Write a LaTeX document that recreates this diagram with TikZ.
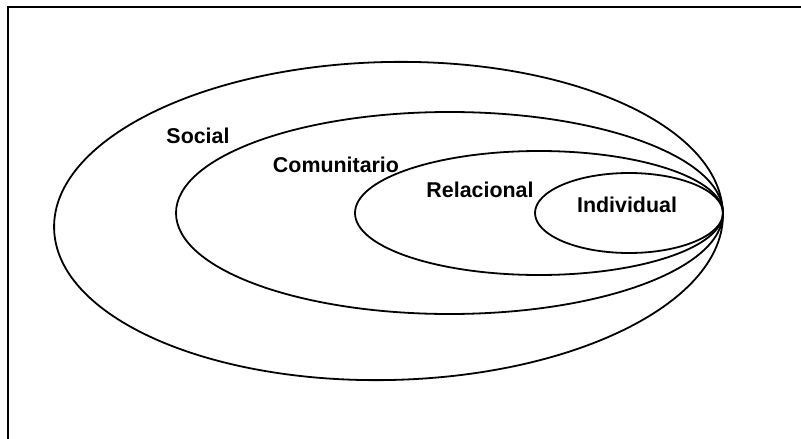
\documentclass[tikz,border=0pt]{standalone}
\usepackage{fontspec}
\setmainfont{Liberation Sans}
\usetikzlibrary{shapes.geometric}
\tikzstyle{anello} = [ellipse, draw=black, line width=1.8pt, inner sep=0pt, outer sep=0pt]
\tikzstyle{etichetta} = [anchor=base, inner sep=0pt, font=\bfseries\fontsize{21.4}{24}\selectfont]

\begin{document}
\begin{tikzpicture}[x=1pt,y=-1pt]
				\useasboundingbox (0,0) rectangle (801,439);
				\draw[line width=1.4pt] (8,7) rectangle (830,470);
				\node (social) at (388.5,221) [anello, minimum width=669pt, minimum height=318pt, rotate=1.3] {};
				\node (comunitario) at (449.5,213) [anello, minimum width=547pt, minimum height=202pt] {};
				\node (relacional) at (539,213) [anello, minimum width=368pt, minimum height=124pt] {};
				\node (individual) at (629,213) [anello, minimum width=188pt, minimum height=80pt] {};
				\node (tsocial) at (198,143) [etichetta] {Social};
				\node (tcomunitario) at (336,172) [etichetta] {Comunitario};
				\node (trelacional) at (480,197) [etichetta] {Relacional};
				\node (tindividual) at (627,212) [etichetta] {Individual};
				\end{tikzpicture}
\end{document}
